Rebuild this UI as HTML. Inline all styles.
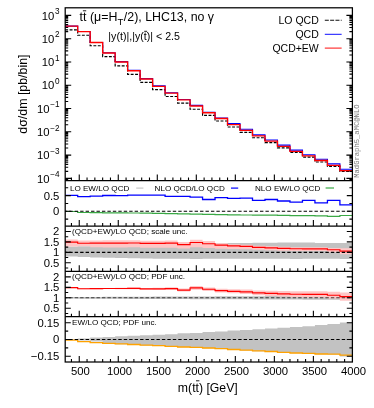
<!DOCTYPE html>
<html><head><meta charset="utf-8"><title>plot</title>
<style>html,body{margin:0;padding:0;background:#fff;}body{width:374px;height:408px;overflow:hidden;font-family:"Liberation Sans",sans-serif;}</style></head>
<body>
<svg width="374" height="408" viewBox="0 0 374 408" style="display:block;will-change:transform">
<rect width="374" height="408" fill="#fff"/>
<path d="M65.20 246.40 L77.69 246.40 L77.69 246.20 L90.17 246.20 L90.17 246.00 L102.66 246.00 L102.66 245.80 L115.15 245.80 L115.15 245.60 L127.63 245.60 L127.63 245.30 L140.12 245.30 L140.12 245.00 L152.61 245.00 L152.61 244.70 L165.10 244.70 L165.10 244.40 L177.58 244.40 L177.58 244.10 L190.07 244.10 L190.07 243.80 L202.56 243.80 L202.56 243.50 L215.04 243.50 L215.04 243.30 L227.53 243.30 L227.53 243.10 L240.02 243.10 L240.02 243.00 L252.50 243.00 L252.50 242.80 L264.99 242.80 L264.99 242.70 L277.48 242.70 L277.48 242.60 L289.97 242.60 L289.97 242.50 L302.45 242.50 L302.45 242.60 L314.94 242.60 L314.94 242.90 L327.43 242.90 L327.43 243.10 L339.91 243.10 L339.91 242.90 L352.40 242.90 L352.40 259.10 L339.91 259.10 L339.91 258.70 L327.43 258.70 L327.43 258.70 L314.94 258.70 L314.94 258.80 L302.45 258.80 L302.45 258.90 L289.97 258.90 L289.97 258.80 L277.48 258.80 L277.48 258.80 L264.99 258.80 L264.99 258.70 L252.50 258.70 L252.50 258.70 L240.02 258.70 L240.02 258.70 L227.53 258.70 L227.53 258.80 L215.04 258.80 L215.04 258.80 L202.56 258.80 L202.56 258.90 L190.07 258.90 L190.07 258.80 L177.58 258.80 L177.58 258.80 L165.10 258.80 L165.10 258.70 L152.61 258.70 L152.61 258.50 L140.12 258.50 L140.12 258.30 L127.63 258.30 L127.63 258.10 L115.15 258.10 L115.15 257.80 L102.66 257.80 L102.66 257.40 L90.17 257.40 L90.17 257.00 L77.69 257.00 L77.69 256.60 L65.20 256.60Z" fill="#c2c2c2"/>
<path d="M65.20 239.45 L77.69 239.45 L77.69 240.55 L90.17 240.55 L90.17 240.45 L102.66 240.45 L102.66 240.35 L115.15 240.35 L115.15 240.35 L127.63 240.35 L127.63 240.25 L140.12 240.25 L140.12 240.65 L152.61 240.65 L152.61 240.65 L165.10 240.65 L165.10 240.45 L177.58 240.45 L177.58 241.95 L190.07 241.95 L190.07 239.75 L202.56 239.75 L202.56 241.05 L215.04 241.05 L215.04 243.15 L227.53 243.15 L227.53 244.15 L240.02 244.15 L240.02 244.75 L252.50 244.75 L252.50 245.85 L264.99 245.85 L264.99 246.35 L277.48 246.35 L277.48 246.85 L289.97 246.85 L289.97 247.15 L302.45 247.15 L302.45 247.25 L314.94 247.25 L314.94 247.25 L327.43 247.25 L327.43 247.95 L339.91 247.95 L339.91 248.35 L352.40 248.35 L352.40 254.25 L339.91 254.25 L339.91 252.15 L327.43 252.15 L327.43 251.05 L314.94 251.05 L314.94 251.05 L302.45 251.05 L302.45 251.05 L289.97 251.05 L289.97 250.65 L277.48 250.65 L277.48 250.15 L264.99 250.15 L264.99 249.65 L252.50 249.65 L252.50 249.15 L240.02 249.15 L240.02 249.05 L227.53 249.05 L227.53 248.75 L215.04 248.75 L215.04 248.05 L202.56 248.05 L202.56 247.15 L190.07 247.15 L190.07 248.55 L177.58 248.55 L177.58 247.75 L165.10 247.75 L165.10 247.85 L152.61 247.85 L152.61 247.85 L140.12 247.85 L140.12 247.35 L127.63 247.35 L127.63 247.45 L115.15 247.45 L115.15 247.45 L102.66 247.45 L102.66 247.35 L90.17 247.35 L90.17 246.25 L77.69 246.25 L77.69 246.55 L65.20 246.55Z" fill="#ffc6c6"/>
<path d="M65.20 242.15 L77.69 242.15 L77.69 243.25 L90.17 243.25 L90.17 243.15 L102.66 243.15 L102.66 243.05 L115.15 243.05 L115.15 243.05 L127.63 243.05 L127.63 242.95 L140.12 242.95 L140.12 243.35 L152.61 243.35 L152.61 243.35 L165.10 243.35 L165.10 243.15 L177.58 243.15 L177.58 244.65 L190.07 244.65 L190.07 242.45 L202.56 242.45 L202.56 243.75 L215.04 243.75 L215.04 245.15 L227.53 245.15 L227.53 245.85 L240.02 245.85 L240.02 246.35 L252.50 246.35 L252.50 247.35 L264.99 247.35 L264.99 247.85 L277.48 247.85 L277.48 248.35 L289.97 248.35 L289.97 248.75 L302.45 248.75 L302.45 248.85 L314.94 248.85 L314.94 248.85 L327.43 248.85 L327.43 249.75 L339.91 249.75 L339.91 251.15 L352.40 251.15" fill="none" stroke="#f00" stroke-width="1.15"/>
<path d="M65.20 252.35 H352.40" stroke="#000" stroke-width="1.05" stroke-dasharray="3.4 2.05" stroke-dashoffset="1.4"/>
<path d="M65.20 297.00 L77.69 297.00 L77.69 296.94 L90.17 296.94 L90.17 296.89 L102.66 296.89 L102.66 296.84 L115.15 296.84 L115.15 296.78 L127.63 296.78 L127.63 296.73 L140.12 296.73 L140.12 296.67 L152.61 296.67 L152.61 296.62 L165.10 296.62 L165.10 296.56 L177.58 296.56 L177.58 296.50 L190.07 296.50 L190.07 296.45 L202.56 296.45 L202.56 296.40 L215.04 296.40 L215.04 296.34 L227.53 296.34 L227.53 296.29 L240.02 296.29 L240.02 296.23 L252.50 296.23 L252.50 296.18 L264.99 296.18 L264.99 296.12 L277.48 296.12 L277.48 296.06 L289.97 296.06 L289.97 296.01 L302.45 296.01 L302.45 295.95 L314.94 295.95 L314.94 295.90 L327.43 295.90 L327.43 295.85 L339.91 295.85 L339.91 295.79 L352.40 295.79 L352.40 299.81 L339.91 299.81 L339.91 299.75 L327.43 299.75 L327.43 299.70 L314.94 299.70 L314.94 299.65 L302.45 299.65 L302.45 299.59 L289.97 299.59 L289.97 299.54 L277.48 299.54 L277.48 299.48 L264.99 299.48 L264.99 299.43 L252.50 299.43 L252.50 299.37 L240.02 299.37 L240.02 299.31 L227.53 299.31 L227.53 299.26 L215.04 299.26 L215.04 299.20 L202.56 299.20 L202.56 299.15 L190.07 299.15 L190.07 299.10 L177.58 299.10 L177.58 299.04 L165.10 299.04 L165.10 298.99 L152.61 298.99 L152.61 298.93 L140.12 298.93 L140.12 298.88 L127.63 298.88 L127.63 298.82 L115.15 298.82 L115.15 298.76 L102.66 298.76 L102.66 298.71 L90.17 298.71 L90.17 298.66 L77.69 298.66 L77.69 298.60 L65.20 298.60Z" fill="#c2c2c2"/>
<path d="M65.20 287.00 L77.69 287.00 L77.69 288.10 L90.17 288.10 L90.17 288.00 L102.66 288.00 L102.66 287.90 L115.15 287.90 L115.15 287.80 L127.63 287.80 L127.63 287.60 L140.12 287.60 L140.12 287.90 L152.61 287.90 L152.61 287.70 L165.10 287.70 L165.10 287.30 L177.58 287.30 L177.58 288.60 L190.07 288.60 L190.07 286.10 L202.56 286.10 L202.56 287.40 L215.04 287.40 L215.04 288.70 L227.53 288.70 L227.53 289.30 L240.02 289.30 L240.02 289.60 L252.50 289.60 L252.50 290.40 L264.99 290.40 L264.99 290.70 L277.48 290.70 L277.48 291.00 L289.97 291.00 L289.97 291.20 L302.45 291.20 L302.45 291.20 L314.94 291.20 L314.94 291.20 L327.43 291.20 L327.43 291.80 L339.91 291.80 L339.91 292.50 L352.40 292.50 L352.40 300.70 L339.91 300.70 L339.91 298.60 L327.43 298.60 L327.43 297.40 L314.94 297.40 L314.94 297.40 L302.45 297.40 L302.45 297.20 L289.97 297.20 L289.97 296.60 L277.48 296.60 L277.48 295.90 L264.99 295.90 L264.99 295.20 L252.50 295.20 L252.50 294.00 L240.02 294.00 L240.02 293.30 L227.53 293.30 L227.53 292.50 L215.04 292.50 L215.04 291.00 L202.56 291.00 L202.56 289.70 L190.07 289.70 L190.07 291.60 L177.58 291.60 L177.58 289.90 L165.10 289.90 L165.10 289.90 L152.61 289.90 L152.61 289.70 L140.12 289.70 L140.12 289.20 L127.63 289.20 L127.63 289.20 L115.15 289.20 L115.15 289.10 L102.66 289.10 L102.66 289.20 L90.17 289.20 L90.17 289.30 L77.69 289.30 L77.69 288.20 L65.20 288.20Z" fill="#ffc6c6"/>
<path d="M65.20 287.60 L77.69 287.60 L77.69 288.70 L90.17 288.70 L90.17 288.60 L102.66 288.60 L102.66 288.50 L115.15 288.50 L115.15 288.50 L127.63 288.50 L127.63 288.40 L140.12 288.40 L140.12 288.80 L152.61 288.80 L152.61 288.80 L165.10 288.80 L165.10 288.60 L177.58 288.60 L177.58 290.10 L190.07 290.10 L190.07 287.90 L202.56 287.90 L202.56 289.20 L215.04 289.20 L215.04 290.60 L227.53 290.60 L227.53 291.30 L240.02 291.30 L240.02 291.80 L252.50 291.80 L252.50 292.80 L264.99 292.80 L264.99 293.30 L277.48 293.30 L277.48 293.80 L289.97 293.80 L289.97 294.20 L302.45 294.20 L302.45 294.30 L314.94 294.30 L314.94 294.30 L327.43 294.30 L327.43 295.20 L339.91 295.20 L339.91 296.60 L352.40 296.60" fill="none" stroke="#f00" stroke-width="1.15"/>
<path d="M65.20 297.80 H352.40" stroke="#000" stroke-width="1.05" stroke-opacity="0.7" stroke-dasharray="3.4 2.05" stroke-dashoffset="1.4"/>
<path d="M65.20 339.30 L77.69 339.30 L77.69 338.40 L90.17 338.40 L90.17 337.40 L102.66 337.40 L102.66 336.90 L115.15 336.90 L115.15 336.30 L127.63 336.30 L127.63 335.80 L140.12 335.80 L140.12 335.30 L152.61 335.30 L152.61 334.80 L165.10 334.80 L165.10 334.30 L177.58 334.30 L177.58 333.35 L190.07 333.35 L190.07 332.95 L202.56 332.95 L202.56 332.00 L215.04 332.00 L215.04 331.40 L227.53 331.40 L227.53 330.50 L240.02 330.50 L240.02 329.90 L252.50 329.90 L252.50 329.30 L264.99 329.30 L264.99 328.40 L277.48 328.40 L277.48 327.80 L289.97 327.80 L289.97 327.10 L302.45 327.10 L302.45 326.30 L314.94 326.30 L314.94 325.00 L327.43 325.00 L327.43 323.90 L339.91 323.90 L339.91 322.40 L352.40 322.40 L352.40 356.60 L339.91 356.60 L339.91 354.50 L327.43 354.50 L327.43 354.30 L314.94 354.30 L314.94 353.70 L302.45 353.70 L302.45 353.30 L289.97 353.30 L289.97 352.70 L277.48 352.70 L277.48 351.80 L264.99 351.80 L264.99 351.20 L252.50 351.20 L252.50 350.50 L240.02 350.50 L240.02 349.80 L227.53 349.80 L227.53 349.00 L215.04 349.00 L215.04 348.30 L202.56 348.30 L202.56 347.70 L190.07 347.70 L190.07 347.30 L177.58 347.30 L177.58 346.60 L165.10 346.60 L165.10 346.00 L152.61 346.00 L152.61 345.40 L140.12 345.40 L140.12 344.80 L127.63 344.80 L127.63 344.20 L115.15 344.20 L115.15 343.60 L102.66 343.60 L102.66 341.40 L90.17 341.40 L90.17 340.60 L77.69 340.60 L77.69 339.80 L65.20 339.80Z" fill="#c2c2c2"/>
<path d="M65.20 340.10 L77.69 340.10 L77.69 341.70 L90.17 341.70 L90.17 342.70 L102.66 342.70 L102.66 343.30 L115.15 343.30 L115.15 343.90 L127.63 343.90 L127.63 344.50 L140.12 344.50 L140.12 345.10 L152.61 345.10 L152.61 345.70 L165.10 345.70 L165.10 346.30 L177.58 346.30 L177.58 347.00 L190.07 347.00 L190.07 347.40 L202.56 347.40 L202.56 348.00 L215.04 348.00 L215.04 348.70 L227.53 348.70 L227.53 349.50 L240.02 349.50 L240.02 350.20 L252.50 350.20 L252.50 350.90 L264.99 350.90 L264.99 351.50 L277.48 351.50 L277.48 352.40 L289.97 352.40 L289.97 353.00 L302.45 353.00 L302.45 353.40 L314.94 353.40 L314.94 354.00 L327.43 354.00 L327.43 354.20 L339.91 354.20 L339.91 355.10 L352.40 355.10" fill="none" stroke="#ffa200" stroke-width="1.3"/>
<path d="M65.20 339.50 H352.40" stroke="#000" stroke-width="1.05" stroke-dasharray="3.4 2.05" stroke-dashoffset="1.4"/>
<path d="M65.20 211.50 L77.69 211.50 L77.69 212.50 L90.17 212.50 L90.17 212.70 L102.66 212.70 L102.66 212.80 L115.15 212.80 L115.15 212.90 L127.63 212.90 L127.63 213.00 L140.12 213.00 L140.12 213.20 L152.61 213.20 L152.61 213.40 L165.10 213.40 L165.10 213.60 L177.58 213.60 L177.58 213.80 L190.07 213.80 L190.07 214.10 L202.56 214.10 L202.56 214.30 L215.04 214.30 L215.04 214.60 L227.53 214.60 L227.53 214.80 L240.02 214.80 L240.02 215.00 L252.50 215.00 L252.50 215.10 L264.99 215.10 L264.99 215.20 L277.48 215.20 L277.48 215.40 L289.97 215.40 L289.97 215.60 L302.45 215.60 L302.45 215.70 L314.94 215.70 L314.94 215.80 L327.43 215.80 L327.43 216.40 L339.91 216.40 L339.91 215.50 L352.40 215.50" fill="none" stroke="#3aa845" stroke-width="1.2"/>
<path d="M65.20 211.30 H352.40" stroke="#000" stroke-width="1.05" stroke-dasharray="3.4 2.05" stroke-dashoffset="1.4"/>
<path d="M65.20 195.40 L77.69 195.40 L77.69 196.70 L90.17 196.70 L90.17 196.10 L102.66 196.10 L102.66 195.50 L115.15 195.50 L115.15 195.60 L127.63 195.60 L127.63 195.10 L140.12 195.10 L140.12 195.10 L152.61 195.10 L152.61 195.10 L165.10 195.10 L165.10 196.30 L177.58 196.30 L177.58 196.30 L190.07 196.30 L190.07 197.20 L202.56 197.20 L202.56 199.50 L215.04 199.50 L215.04 197.60 L227.53 197.60 L227.53 198.35 L240.02 198.35 L240.02 198.20 L252.50 198.20 L252.50 200.40 L264.99 200.40 L264.99 199.50 L277.48 199.50 L277.48 201.00 L289.97 201.00 L289.97 202.10 L302.45 202.10 L302.45 200.40 L314.94 200.40 L314.94 202.80 L327.43 202.80 L327.43 200.40 L339.91 200.40 L339.91 204.90 L352.40 204.90" fill="none" stroke="#00f" stroke-width="1.3"/>
<path d="M65.20 29.90 L77.69 29.90 L77.69 35.20 L90.17 35.20 L90.17 45.70 L102.66 45.70 L102.66 56.60 L115.15 56.60 L115.15 65.80 L127.63 65.80 L127.63 74.40 L140.12 74.40 L140.12 82.40 L152.61 82.40 L152.61 89.60 L165.10 89.60 L165.10 96.50 L177.58 96.50 L177.58 103.10 L190.07 103.10 L190.07 109.20 L202.56 109.20 L202.56 115.40 L215.04 115.40 L215.04 120.95 L227.53 120.95 L227.53 127.00 L240.02 127.00 L240.02 132.40 L252.50 132.40 L252.50 137.70 L264.99 137.70 L264.99 142.55 L277.48 142.55 L277.48 147.80 L289.97 147.80 L289.97 152.30 L302.45 152.30 L302.45 157.10 L314.94 157.10 L314.94 162.00 L327.43 162.00 L327.43 166.40 L339.91 166.40 L339.91 171.40 L352.40 171.40" fill="none" stroke="#000" stroke-width="1.15" stroke-dasharray="2.9 1.5"/>
<path d="M65.20 26.10 L77.69 26.10 L77.69 31.55 L90.17 31.55 L90.17 42.50 L102.66 42.50 L102.66 52.75 L115.15 52.75 L115.15 61.65 L127.63 61.65 L127.63 70.35 L140.12 70.35 L140.12 78.65 L152.61 78.65 L152.61 85.90 L165.10 85.90 L165.10 92.70 L177.58 92.70 L177.58 99.45 L190.07 99.45 L190.07 105.35 L202.56 105.35 L202.56 112.40 L215.04 112.40 L215.04 118.00 L227.53 118.00 L227.53 123.60 L240.02 123.60 L240.02 129.30 L252.50 129.30 L252.50 134.85 L264.99 134.85 L264.99 140.00 L277.48 140.00 L277.48 145.15 L289.97 145.15 L289.97 150.10 L302.45 150.10 L302.45 154.70 L314.94 154.70 L314.94 159.30 L327.43 159.30 L327.43 163.90 L339.91 163.90 L339.91 169.30 L352.40 169.30" fill="none" stroke="#00f" stroke-width="1.1"/>
<path d="M65.20 26.10 L77.69 26.10 L77.69 31.55 L90.17 31.55 L90.17 42.50 L102.66 42.50 L102.66 52.95 L115.15 52.95 L115.15 62.00 L127.63 62.00 L127.63 70.70 L140.12 70.70 L140.12 79.00 L152.61 79.00 L152.61 86.30 L165.10 86.30 L165.10 93.05 L177.58 93.05 L177.58 99.90 L190.07 99.90 L190.07 106.00 L202.56 106.00 L202.56 112.70 L215.04 112.70 L215.04 118.50 L227.53 118.50 L227.53 124.60 L240.02 124.60 L240.02 130.30 L252.50 130.30 L252.50 135.85 L264.99 135.85 L264.99 141.10 L277.48 141.10 L277.48 146.35 L289.97 146.35 L289.97 151.30 L302.45 151.30 L302.45 155.90 L314.94 155.90 L314.94 160.50 L327.43 160.50 L327.43 165.30 L339.91 165.30 L339.91 170.60 L352.40 170.60" fill="none" stroke="#f00" stroke-width="1.35"/>
<g stroke="#000" stroke-width="1.25" fill="none">
<rect x="65.20" y="7.80" width="287.20" height="354.20"/>
<path d="M65.20 180.50 H352.40"/>
<path d="M65.20 226.00 H352.40"/>
<path d="M65.20 271.30 H352.40"/>
<path d="M65.20 316.70 H352.40"/>
</g>
<path d="M71.44 180.50 v-3.00 M79.25 180.50 v-6.00 M87.05 180.50 v-3.00 M94.86 180.50 v-3.00 M102.66 180.50 v-3.00 M110.47 180.50 v-3.00 M118.27 180.50 v-6.00 M126.07 180.50 v-3.00 M133.88 180.50 v-3.00 M141.68 180.50 v-3.00 M149.49 180.50 v-3.00 M157.29 180.50 v-6.00 M165.10 180.50 v-3.00 M172.90 180.50 v-3.00 M180.70 180.50 v-3.00 M188.51 180.50 v-3.00 M196.31 180.50 v-6.00 M204.12 180.50 v-3.00 M211.92 180.50 v-3.00 M219.73 180.50 v-3.00 M227.53 180.50 v-3.00 M235.33 180.50 v-6.00 M243.14 180.50 v-3.00 M250.94 180.50 v-3.00 M258.75 180.50 v-3.00 M266.55 180.50 v-3.00 M274.36 180.50 v-6.00 M282.16 180.50 v-3.00 M289.97 180.50 v-3.00 M297.77 180.50 v-3.00 M305.57 180.50 v-3.00 M313.38 180.50 v-6.00 M321.18 180.50 v-3.00 M328.99 180.50 v-3.00 M336.79 180.50 v-3.00 M344.60 180.50 v-3.00 M71.44 226.00 v-3.00 M79.25 226.00 v-6.00 M87.05 226.00 v-3.00 M94.86 226.00 v-3.00 M102.66 226.00 v-3.00 M110.47 226.00 v-3.00 M118.27 226.00 v-6.00 M126.07 226.00 v-3.00 M133.88 226.00 v-3.00 M141.68 226.00 v-3.00 M149.49 226.00 v-3.00 M157.29 226.00 v-6.00 M165.10 226.00 v-3.00 M172.90 226.00 v-3.00 M180.70 226.00 v-3.00 M188.51 226.00 v-3.00 M196.31 226.00 v-6.00 M204.12 226.00 v-3.00 M211.92 226.00 v-3.00 M219.73 226.00 v-3.00 M227.53 226.00 v-3.00 M235.33 226.00 v-6.00 M243.14 226.00 v-3.00 M250.94 226.00 v-3.00 M258.75 226.00 v-3.00 M266.55 226.00 v-3.00 M274.36 226.00 v-6.00 M282.16 226.00 v-3.00 M289.97 226.00 v-3.00 M297.77 226.00 v-3.00 M305.57 226.00 v-3.00 M313.38 226.00 v-6.00 M321.18 226.00 v-3.00 M328.99 226.00 v-3.00 M336.79 226.00 v-3.00 M344.60 226.00 v-3.00 M71.44 271.30 v-3.00 M79.25 271.30 v-6.00 M87.05 271.30 v-3.00 M94.86 271.30 v-3.00 M102.66 271.30 v-3.00 M110.47 271.30 v-3.00 M118.27 271.30 v-6.00 M126.07 271.30 v-3.00 M133.88 271.30 v-3.00 M141.68 271.30 v-3.00 M149.49 271.30 v-3.00 M157.29 271.30 v-6.00 M165.10 271.30 v-3.00 M172.90 271.30 v-3.00 M180.70 271.30 v-3.00 M188.51 271.30 v-3.00 M196.31 271.30 v-6.00 M204.12 271.30 v-3.00 M211.92 271.30 v-3.00 M219.73 271.30 v-3.00 M227.53 271.30 v-3.00 M235.33 271.30 v-6.00 M243.14 271.30 v-3.00 M250.94 271.30 v-3.00 M258.75 271.30 v-3.00 M266.55 271.30 v-3.00 M274.36 271.30 v-6.00 M282.16 271.30 v-3.00 M289.97 271.30 v-3.00 M297.77 271.30 v-3.00 M305.57 271.30 v-3.00 M313.38 271.30 v-6.00 M321.18 271.30 v-3.00 M328.99 271.30 v-3.00 M336.79 271.30 v-3.00 M344.60 271.30 v-3.00 M71.44 316.70 v-3.00 M79.25 316.70 v-6.00 M87.05 316.70 v-3.00 M94.86 316.70 v-3.00 M102.66 316.70 v-3.00 M110.47 316.70 v-3.00 M118.27 316.70 v-6.00 M126.07 316.70 v-3.00 M133.88 316.70 v-3.00 M141.68 316.70 v-3.00 M149.49 316.70 v-3.00 M157.29 316.70 v-6.00 M165.10 316.70 v-3.00 M172.90 316.70 v-3.00 M180.70 316.70 v-3.00 M188.51 316.70 v-3.00 M196.31 316.70 v-6.00 M204.12 316.70 v-3.00 M211.92 316.70 v-3.00 M219.73 316.70 v-3.00 M227.53 316.70 v-3.00 M235.33 316.70 v-6.00 M243.14 316.70 v-3.00 M250.94 316.70 v-3.00 M258.75 316.70 v-3.00 M266.55 316.70 v-3.00 M274.36 316.70 v-6.00 M282.16 316.70 v-3.00 M289.97 316.70 v-3.00 M297.77 316.70 v-3.00 M305.57 316.70 v-3.00 M313.38 316.70 v-6.00 M321.18 316.70 v-3.00 M328.99 316.70 v-3.00 M336.79 316.70 v-3.00 M344.60 316.70 v-3.00 M71.44 362.00 v-3.00 M79.25 362.00 v-6.00 M87.05 362.00 v-3.00 M94.86 362.00 v-3.00 M102.66 362.00 v-3.00 M110.47 362.00 v-3.00 M118.27 362.00 v-6.00 M126.07 362.00 v-3.00 M133.88 362.00 v-3.00 M141.68 362.00 v-3.00 M149.49 362.00 v-3.00 M157.29 362.00 v-6.00 M165.10 362.00 v-3.00 M172.90 362.00 v-3.00 M180.70 362.00 v-3.00 M188.51 362.00 v-3.00 M196.31 362.00 v-6.00 M204.12 362.00 v-3.00 M211.92 362.00 v-3.00 M219.73 362.00 v-3.00 M227.53 362.00 v-3.00 M235.33 362.00 v-6.00 M243.14 362.00 v-3.00 M250.94 362.00 v-3.00 M258.75 362.00 v-3.00 M266.55 362.00 v-3.00 M274.36 362.00 v-6.00 M282.16 362.00 v-3.00 M289.97 362.00 v-3.00 M297.77 362.00 v-3.00 M305.57 362.00 v-3.00 M313.38 362.00 v-6.00 M321.18 362.00 v-3.00 M328.99 362.00 v-3.00 M336.79 362.00 v-3.00 M344.60 362.00 v-3.00 M65.20 15.40 h6.00 M352.40 15.40 h-6.00 M65.20 38.68 h6.00 M352.40 38.68 h-6.00 M65.20 31.67 h3.00 M352.40 31.67 h-3.00 M65.20 27.57 h3.00 M352.40 27.57 h-3.00 M65.20 24.66 h3.00 M352.40 24.66 h-3.00 M65.20 22.41 h3.00 M352.40 22.41 h-3.00 M65.20 20.56 h3.00 M352.40 20.56 h-3.00 M65.20 19.01 h3.00 M352.40 19.01 h-3.00 M65.20 17.66 h3.00 M352.40 17.66 h-3.00 M65.20 16.47 h3.00 M352.40 16.47 h-3.00 M65.20 61.96 h6.00 M352.40 61.96 h-6.00 M65.20 54.95 h3.00 M352.40 54.95 h-3.00 M65.20 50.85 h3.00 M352.40 50.85 h-3.00 M65.20 47.94 h3.00 M352.40 47.94 h-3.00 M65.20 45.69 h3.00 M352.40 45.69 h-3.00 M65.20 43.84 h3.00 M352.40 43.84 h-3.00 M65.20 42.29 h3.00 M352.40 42.29 h-3.00 M65.20 40.94 h3.00 M352.40 40.94 h-3.00 M65.20 39.75 h3.00 M352.40 39.75 h-3.00 M65.20 85.24 h6.00 M352.40 85.24 h-6.00 M65.20 78.23 h3.00 M352.40 78.23 h-3.00 M65.20 74.13 h3.00 M352.40 74.13 h-3.00 M65.20 71.22 h3.00 M352.40 71.22 h-3.00 M65.20 68.97 h3.00 M352.40 68.97 h-3.00 M65.20 67.12 h3.00 M352.40 67.12 h-3.00 M65.20 65.57 h3.00 M352.40 65.57 h-3.00 M65.20 64.22 h3.00 M352.40 64.22 h-3.00 M65.20 63.03 h3.00 M352.40 63.03 h-3.00 M65.20 108.52 h6.00 M352.40 108.52 h-6.00 M65.20 101.51 h3.00 M352.40 101.51 h-3.00 M65.20 97.41 h3.00 M352.40 97.41 h-3.00 M65.20 94.50 h3.00 M352.40 94.50 h-3.00 M65.20 92.25 h3.00 M352.40 92.25 h-3.00 M65.20 90.40 h3.00 M352.40 90.40 h-3.00 M65.20 88.85 h3.00 M352.40 88.85 h-3.00 M65.20 87.50 h3.00 M352.40 87.50 h-3.00 M65.20 86.31 h3.00 M352.40 86.31 h-3.00 M65.20 131.80 h6.00 M352.40 131.80 h-6.00 M65.20 124.79 h3.00 M352.40 124.79 h-3.00 M65.20 120.69 h3.00 M352.40 120.69 h-3.00 M65.20 117.78 h3.00 M352.40 117.78 h-3.00 M65.20 115.53 h3.00 M352.40 115.53 h-3.00 M65.20 113.68 h3.00 M352.40 113.68 h-3.00 M65.20 112.13 h3.00 M352.40 112.13 h-3.00 M65.20 110.78 h3.00 M352.40 110.78 h-3.00 M65.20 109.59 h3.00 M352.40 109.59 h-3.00 M65.20 155.08 h6.00 M352.40 155.08 h-6.00 M65.20 148.07 h3.00 M352.40 148.07 h-3.00 M65.20 143.97 h3.00 M352.40 143.97 h-3.00 M65.20 141.06 h3.00 M352.40 141.06 h-3.00 M65.20 138.81 h3.00 M352.40 138.81 h-3.00 M65.20 136.96 h3.00 M352.40 136.96 h-3.00 M65.20 135.41 h3.00 M352.40 135.41 h-3.00 M65.20 134.06 h3.00 M352.40 134.06 h-3.00 M65.20 132.87 h3.00 M352.40 132.87 h-3.00 M65.20 178.36 h6.00 M352.40 178.36 h-6.00 M65.20 171.35 h3.00 M352.40 171.35 h-3.00 M65.20 167.25 h3.00 M352.40 167.25 h-3.00 M65.20 164.34 h3.00 M352.40 164.34 h-3.00 M65.20 162.09 h3.00 M352.40 162.09 h-3.00 M65.20 160.24 h3.00 M352.40 160.24 h-3.00 M65.20 158.69 h3.00 M352.40 158.69 h-3.00 M65.20 157.34 h3.00 M352.40 157.34 h-3.00 M65.20 156.15 h3.00 M352.40 156.15 h-3.00 M65.20 179.43 h3.00 M352.40 179.43 h-3.00 M65.20 219.15 h3.00 M352.40 219.15 h-3.00 M65.20 211.30 h5.60 M352.40 211.30 h-5.60 M65.20 203.45 h3.00 M352.40 203.45 h-3.00 M65.20 195.60 h5.60 M352.40 195.60 h-5.60 M65.20 187.75 h3.00 M352.40 187.75 h-3.00 M65.20 268.02 h3.00 M352.40 268.02 h-3.00 M65.20 262.80 h5.60 M352.40 262.80 h-5.60 M65.20 257.57 h3.00 M352.40 257.57 h-3.00 M65.20 252.35 h5.60 M352.40 252.35 h-5.60 M65.20 247.12 h3.00 M352.40 247.12 h-3.00 M65.20 241.90 h5.60 M352.40 241.90 h-5.60 M65.20 236.68 h3.00 M352.40 236.68 h-3.00 M65.20 231.45 h5.60 M352.40 231.45 h-5.60 M65.20 313.47 h3.00 M352.40 313.47 h-3.00 M65.20 308.25 h5.60 M352.40 308.25 h-5.60 M65.20 303.02 h3.00 M352.40 303.02 h-3.00 M65.20 297.80 h5.60 M352.40 297.80 h-5.60 M65.20 292.57 h3.00 M352.40 292.57 h-3.00 M65.20 287.35 h5.60 M352.40 287.35 h-5.60 M65.20 282.12 h3.00 M352.40 282.12 h-3.00 M65.20 276.90 h5.60 M352.40 276.90 h-5.60 M65.20 356.20 h5.60 M352.40 356.20 h-5.60 M65.20 347.85 h3.00 M352.40 347.85 h-3.00 M65.20 339.50 h5.60 M352.40 339.50 h-5.60 M65.20 331.15 h3.00 M352.40 331.15 h-3.00 M65.20 322.80 h5.60 M352.40 322.80 h-5.60" stroke="#000" stroke-width="1.1" fill="none"/>
<text x="59.6" y="19.60" font-family="Liberation Sans, sans-serif" font-size="11.30" text-anchor="end" fill="#000">10<tspan font-size="8.2" dy="-5.5" dx="0.7">3</tspan></text>
<text x="59.6" y="42.88" font-family="Liberation Sans, sans-serif" font-size="11.30" text-anchor="end" fill="#000">10<tspan font-size="8.2" dy="-5.5" dx="0.7">2</tspan></text>
<text x="59.6" y="66.16" font-family="Liberation Sans, sans-serif" font-size="11.30" text-anchor="end" fill="#000">10<tspan font-size="8.2" dy="-5.5" dx="0.7">1</tspan></text>
<text x="59.6" y="89.44" font-family="Liberation Sans, sans-serif" font-size="11.30" text-anchor="end" fill="#000">10<tspan font-size="8.2" dy="-5.5" dx="0.7">0</tspan></text>
<text x="59.6" y="112.72" font-family="Liberation Sans, sans-serif" font-size="11.30" text-anchor="end" fill="#000">10<tspan font-size="8.2" dy="-5.5" dx="0.7">−1</tspan></text>
<text x="59.6" y="136.00" font-family="Liberation Sans, sans-serif" font-size="11.30" text-anchor="end" fill="#000">10<tspan font-size="8.2" dy="-5.5" dx="0.7">−2</tspan></text>
<text x="59.6" y="159.28" font-family="Liberation Sans, sans-serif" font-size="11.30" text-anchor="end" fill="#000">10<tspan font-size="8.2" dy="-5.5" dx="0.7">−3</tspan></text>
<text x="59.6" y="182.56" font-family="Liberation Sans, sans-serif" font-size="11.30" text-anchor="end" fill="#000">10<tspan font-size="8.2" dy="-5.5" dx="0.7">−4</tspan></text>
<text x="59.40" y="199.50" font-family="Liberation Sans, sans-serif" font-size="11.30" text-anchor="end" fill="#000" >0.5</text>
<text x="59.40" y="215.20" font-family="Liberation Sans, sans-serif" font-size="11.30" text-anchor="end" fill="#000" >0</text>
<text x="59.40" y="235.35" font-family="Liberation Sans, sans-serif" font-size="11.30" text-anchor="end" fill="#000" >2</text>
<text x="59.40" y="245.80" font-family="Liberation Sans, sans-serif" font-size="11.30" text-anchor="end" fill="#000" >1.5</text>
<text x="59.40" y="256.25" font-family="Liberation Sans, sans-serif" font-size="11.30" text-anchor="end" fill="#000" >1</text>
<text x="59.40" y="266.70" font-family="Liberation Sans, sans-serif" font-size="11.30" text-anchor="end" fill="#000" >0.5</text>
<text x="59.40" y="280.80" font-family="Liberation Sans, sans-serif" font-size="11.30" text-anchor="end" fill="#000" >2</text>
<text x="59.40" y="291.25" font-family="Liberation Sans, sans-serif" font-size="11.30" text-anchor="end" fill="#000" >1.5</text>
<text x="59.40" y="301.70" font-family="Liberation Sans, sans-serif" font-size="11.30" text-anchor="end" fill="#000" >1</text>
<text x="59.40" y="312.15" font-family="Liberation Sans, sans-serif" font-size="11.30" text-anchor="end" fill="#000" >0.5</text>
<text x="59.40" y="326.70" font-family="Liberation Sans, sans-serif" font-size="11.30" text-anchor="end" fill="#000" >0.15</text>
<text x="59.40" y="343.40" font-family="Liberation Sans, sans-serif" font-size="11.30" text-anchor="end" fill="#000" >0</text>
<text x="59.40" y="360.10" font-family="Liberation Sans, sans-serif" font-size="11.30" text-anchor="end" fill="#000" >−0.15</text>
<text x="80.45" y="375.20" font-family="Liberation Sans, sans-serif" font-size="11.30" text-anchor="middle" fill="#000" >500</text>
<text x="119.47" y="375.20" font-family="Liberation Sans, sans-serif" font-size="11.30" text-anchor="middle" fill="#000" >1000</text>
<text x="158.49" y="375.20" font-family="Liberation Sans, sans-serif" font-size="11.30" text-anchor="middle" fill="#000" >1500</text>
<text x="197.51" y="375.20" font-family="Liberation Sans, sans-serif" font-size="11.30" text-anchor="middle" fill="#000" >2000</text>
<text x="236.53" y="375.20" font-family="Liberation Sans, sans-serif" font-size="11.30" text-anchor="middle" fill="#000" >2500</text>
<text x="275.56" y="375.20" font-family="Liberation Sans, sans-serif" font-size="11.30" text-anchor="middle" fill="#000" >3000</text>
<text x="314.58" y="375.20" font-family="Liberation Sans, sans-serif" font-size="11.30" text-anchor="middle" fill="#000" >3500</text>
<text x="353.60" y="375.20" font-family="Liberation Sans, sans-serif" font-size="11.30" text-anchor="middle" fill="#000" >4000</text>
<text x="207.8" y="391.5" font-family="Liberation Sans, sans-serif" font-size="12.25" text-anchor="middle" fill="#000">m(tt) [GeV]</text>
<text transform="translate(27.1 94.1) rotate(-90)" font-family="Liberation Sans, sans-serif" font-size="12.4" text-anchor="middle" fill="#000">dσ/dm [pb/bin]</text>
<text x="79.6" y="21.0" font-family="Liberation Sans, sans-serif" font-size="12.4" fill="#000">tt (μ=H<tspan font-size="9.6" dy="3.6">T</tspan><tspan dy="-3.6" dx="0.6">/2), LHC13, no γ</tspan></text>
<path d="M82.9 10.8 H86.2 M144.2 31.3 H147.1 M196.0 380.8 H199.4" stroke="#000" stroke-width="0.9"/>
<text x="108.3" y="39.8" font-family="Liberation Sans, sans-serif" font-size="10.65" fill="#000">|y(t)|,|y(t)| &lt; 2.5</text>
<text x="318.80" y="24.00" font-family="Liberation Sans, sans-serif" font-size="10.50" text-anchor="end" fill="#000" >LO QCD</text>
<path d="M324.8 20.25 H341.65" stroke="#000" stroke-width="0.95" stroke-dasharray="4.0 1.33"/>
<text x="318.80" y="37.90" font-family="Liberation Sans, sans-serif" font-size="10.50" text-anchor="end" fill="#000" >QCD</text>
<path d="M324.8 34.30 H341.65" stroke="#00f" stroke-width="0.95" />
<text x="318.80" y="51.85" font-family="Liberation Sans, sans-serif" font-size="10.50" text-anchor="end" fill="#000" >QCD+EW</text>
<path d="M324.8 48.10 H341.65" stroke="#f00" stroke-width="0.95" />
<text x="69.90" y="190.50" font-family="Liberation Sans, sans-serif" font-size="8.12" text-anchor="start" fill="#000" >LO EW/LO QCD</text>
<path d="M136.2 188.1 H143.4" stroke="#c8c8c8" stroke-width="1.2"/>
<text x="154.60" y="190.50" font-family="Liberation Sans, sans-serif" font-size="8.12" text-anchor="start" fill="#000" >NLO QCD/LO QCD</text>
<path d="M231 188.1 H238.2" stroke="#00f" stroke-width="1.2"/>
<text x="255.00" y="190.50" font-family="Liberation Sans, sans-serif" font-size="8.12" text-anchor="start" fill="#000" >NLO EW/LO QCD</text>
<path d="M325.6 188.0 H334.0" stroke="#3aa845" stroke-width="1.2"/>
<text x="72.10" y="234.00" font-family="Liberation Sans, sans-serif" font-size="8.12" text-anchor="start" fill="#000" >(QCD+EW)/LO QCD; scale unc.</text>
<text x="72.10" y="279.40" font-family="Liberation Sans, sans-serif" font-size="8.12" text-anchor="start" fill="#000" >(QCD+EW)/LO QCD; PDF unc.</text>
<text x="72.10" y="325.40" font-family="Liberation Sans, sans-serif" font-size="8.12" text-anchor="start" fill="#000" >EW/LO QCD; PDF unc.</text>
<text transform="translate(359.3 177.8) rotate(-90)" font-family="Liberation Mono, monospace" font-size="7.2" fill="#7a7a7a">MadGraph5_aMC@NLO</text>
</svg>
</body></html>
